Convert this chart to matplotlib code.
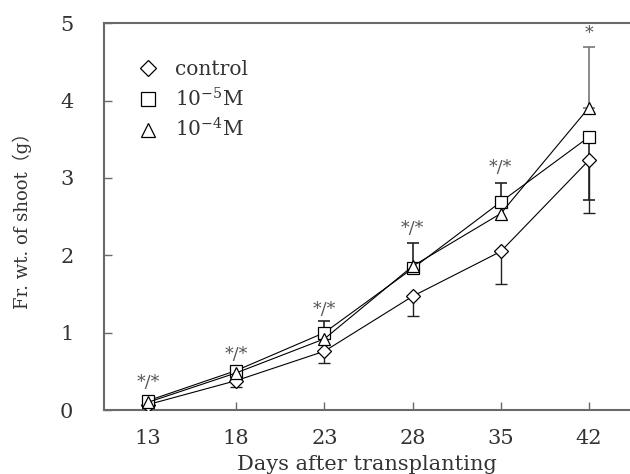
import matplotlib
matplotlib.use("Agg")
import matplotlib.pyplot as plt
import numpy as np

days = ["13", "18", "23", "28", "35", "42"]
control = [0.07, 0.38, 0.76, 1.47, 2.05, 3.23]
conc5 = [0.12, 0.51, 1.00, 1.83, 2.69, 3.53]
conc4 = [0.10, 0.48, 0.92, 1.86, 2.54, 3.91]

control_err_lo = [0.0, 0.08, 0.15, 0.26, 0.42, 0.68]
conc5_err_up = [0.0, 0.0, 0.15, 0.33, 0.24, 0.0]
conc5_err_lo = [0.0, 0.0, 0.0, 0.0, 0.0, 0.81]
conc4_err_up = [0.0, 0.0, 0.0, 0.0, 0.0, 0.78]

sig_labels = ["*/*", "*/*", "*/*", "*/*", "*/*", "*"]
sig_y = [0.35, 0.72, 1.30, 2.34, 3.13, 4.87]

legend_labels = ["control", "10$^{-5}$M", "10$^{-4}$M"]

plt.rcParams['font.family'] = ['DejaVu Serif', 'Noto Sans CJK JP']
plt.rcParams['mathtext.fontset'] = 'dejavuserif'
plt.rcParams['mathtext.default'] = 'regular'

fig = plt.figure(figsize=(6.3, 4.74), dpi=100)
ax = fig.add_axes([0.165, 0.135, 0.835, 0.816])

x = np.arange(len(days))
spine_c = "#6a6a6a"
text_c = "#333333"

def draw_err(vals, lo, up, color, lw):
    vals = np.array(vals); lo = np.array(lo); up = np.array(up)
    m = (lo > 0) | (up > 0)
    if m.any():
        ax.errorbar(x[m], vals[m], yerr=[lo[m], up[m]], fmt='none',
                    ecolor=color, elinewidth=lw, capsize=4, capthick=lw, zorder=2)

draw_err(control, control_err_lo, np.zeros(6), "#222222", 1.0)
draw_err(conc5, conc5_err_lo, conc5_err_up, "#222222", 1.2)
draw_err(conc4, np.zeros(6), conc4_err_up, "#777777", 1.2)

l1, = ax.plot(x, control, color="black", lw=0.8, marker='D', ms=6.8,
              mfc='white', mec='black', mew=0.9, zorder=3)
l2, = ax.plot(x, conc5, color="black", lw=0.8, marker='s', ms=8.2,
              mfc='white', mec='black', mew=0.9, zorder=4)
l3, = ax.plot(x, conc4, color="black", lw=0.8, marker='^', ms=8.0,
              mfc='white', mec='black', mew=0.9, zorder=5)

for xi, lab, yy in zip(x, sig_labels, sig_y):
    ax.text(xi, yy, lab, ha='center', va='center', fontsize=12.5, color="#555555")

h1, = ax.plot([], [], ls='none', marker='D', ms=8.0, mfc='white', mec='black', mew=0.9)
h2, = ax.plot([], [], ls='none', marker='s', ms=9.5, mfc='white', mec='black', mew=0.9)
h3, = ax.plot([], [], ls='none', marker='^', ms=9.5, mfc='white', mec='black', mew=0.9)
leg = ax.legend([h1, h2, h3], legend_labels, loc='upper left',
                bbox_to_anchor=(0.054, 0.925), frameon=False, fontsize=14.5,
                handlelength=0.8, handletextpad=0.9, labelspacing=0.38,
                borderaxespad=0)
for t in leg.get_texts():
    t.set_color(text_c)

ax.set_xlim(-0.5, 5.465)
ax.set_ylim(0, 5)
ax.set_xticks(x)
ax.set_xticklabels(days)
ax.set_yticks([0, 1, 2, 3, 4, 5])
ax.tick_params(direction='in', length=6, width=1, colors=spine_c,
               labelcolor=text_c, labelsize=15, pad=14)
ax.tick_params(axis='y', pad=22)
ax.spines['right'].set_visible(False)
for s in ['left', 'bottom', 'top']:
    ax.spines[s].set_color(spine_c)
    ax.spines[s].set_linewidth(1.5)

ax.set_xlabel("Days after transplanting", fontsize=15, color=text_c, labelpad=5)
ax.set_ylabel("Fr. wt. of shoot\uff08g\uff09", fontsize=13, color=text_c, labelpad=20)

fig.savefig("out.png", dpi=100)
